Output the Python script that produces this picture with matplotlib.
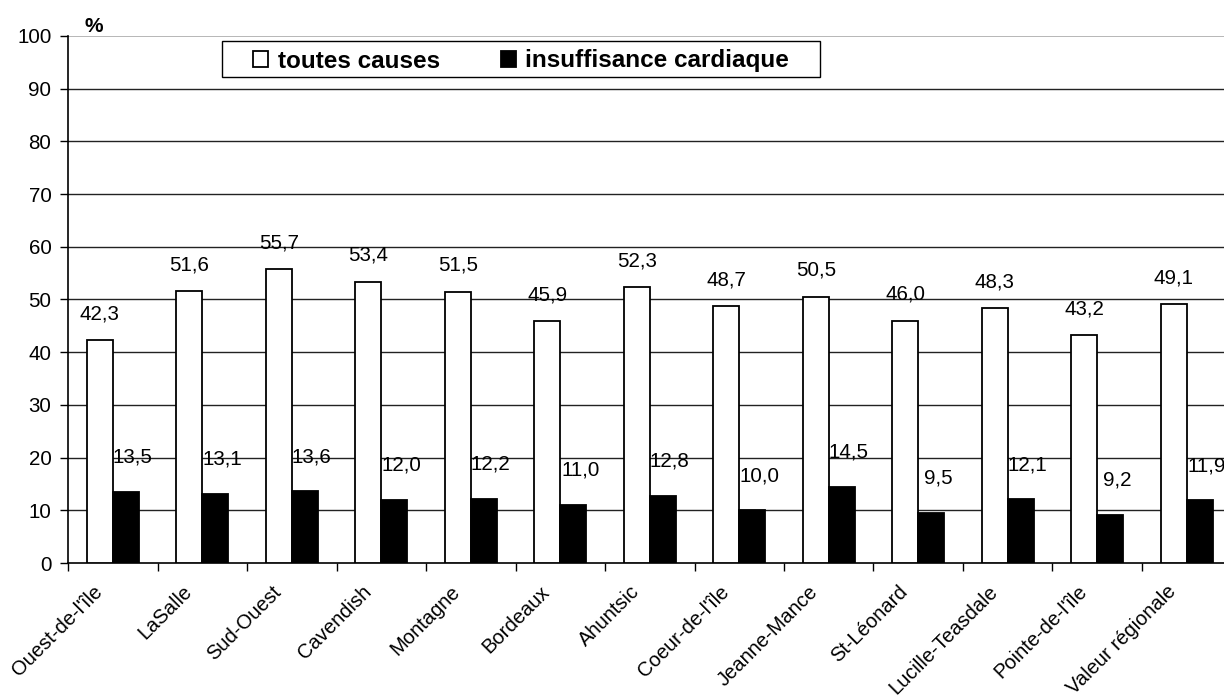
import numpy as np
import matplotlib
matplotlib.use("Agg")
import matplotlib.pyplot as plt
import matplotlib.transforms as mtransforms
from matplotlib.patches import Rectangle

plt.rcParams['font.family'] = ['Liberation Sans', 'DejaVu Sans']

territoires = ["Ouest-de-l'île", "LaSalle", "Sud-Ouest", "Cavendish", "Montagne",
               "Bordeaux", "Ahuntsic", "Coeur-de-l'île", "Jeanne-Mance", "St-Léonard",
               "Lucille-Teasdale", "Pointe-de-l'île", "Valeur régionale"]
toutes_causes = [42.3, 51.6, 55.7, 53.4, 51.5, 45.9, 52.3, 48.7, 50.5, 46.0, 48.3, 43.2, 49.1]
insuff_cardiaque = [13.5, 13.1, 13.6, 12.0, 12.2, 11.0, 12.8, 10.0, 14.5, 9.5, 12.1, 9.2, 11.9]


def fmt(v):
    return f"{v:.1f}".replace(".", ",")


fig = plt.figure(figsize=(12.24, 7.0), dpi=100)
ax = fig.add_axes([0.0556, 0.1957, 0.9505, 0.7529])

x = np.arange(len(territoires))
w = 0.29
b1 = ax.bar(x - w / 2, toutes_causes, w, color='white', edgecolor='black', linewidth=1.3, zorder=3)
b2 = ax.bar(x + w / 2, insuff_cardiaque, w, color='black', edgecolor='black', linewidth=1.3, zorder=3)

# étiquettes de valeurs
for xi, v in zip(x, toutes_causes):
    ax.annotate(fmt(v), (xi - w / 2, v), xytext=(0, 19), textcoords='offset points',
                ha='center', va='center', fontsize=14.8)
for xi, v in zip(x, insuff_cardiaque):
    ax.annotate(fmt(v), (xi + w / 2, v), xytext=(5, 25), textcoords='offset points',
                ha='center', va='center', fontsize=14.8)

ax.set_ylim(0, 100)
ax.set_xlim(-0.5, len(territoires) - 0.5)
ax.set_yticks(np.arange(0, 101, 10))
ax.tick_params(axis='y', labelsize=14.8, length=6, width=1, direction='out', pad=6)
for yv in range(10, 100, 10):
    ax.axhline(yv, color='#222222', linewidth=1.0, zorder=1)
ax.axhline(100, color='#aaaaaa', linewidth=1.2, zorder=1)

ax.set_xticks(np.arange(-0.5, len(territoires), 1.0))
ax.set_xticklabels([])
ax.set_xticks(x, minor=True)
ax.set_xticklabels(territoires, minor=True, rotation=45, ha='right',
                   rotation_mode='anchor', fontsize=14.5)
ax.tick_params(axis='x', which='minor', length=0, pad=8)
ax.tick_params(axis='x', which='major', length=6, width=1, direction='out')
shift = mtransforms.ScaledTranslation(-20 / 100, -8 / 100, fig.dpi_scale_trans)
for lab in ax.get_xticklabels(minor=True):
    lab.set_transform(lab.get_transform() + shift)

for s in ['top', 'right']:
    ax.spines[s].set_visible(False)
ax.spines['left'].set_linewidth(1.2)
ax.spines['bottom'].set_linewidth(1.2)

fig.text(94 / 1224, 1 - 27 / 700, '%', fontsize=15, fontweight='bold', ha='center', va='center')

# légende (cadre dessiné à part)
fig.patches.append(Rectangle((222 / 1224, 1 - 77 / 700), 598 / 1224, 36 / 700,
                             transform=fig.transFigure, facecolor='white',
                             edgecolor='black', linewidth=1.0, zorder=4))
leg = fig.legend([b1, b2], ['toutes causes', 'insuffisance cardiaque'], ncol=2,
                 loc='center', bbox_to_anchor=(521 / 1224, 1 - 61 / 700), frameon=False,
                 handlelength=0.62, handleheight=0.62, handletextpad=0.4,
                 columnspacing=2.5, borderpad=0.0, borderaxespad=0.0,
                 prop={'weight': 'bold', 'size': 17.5})
leg.set_zorder(5)

fig.savefig('out.png', dpi=100)
